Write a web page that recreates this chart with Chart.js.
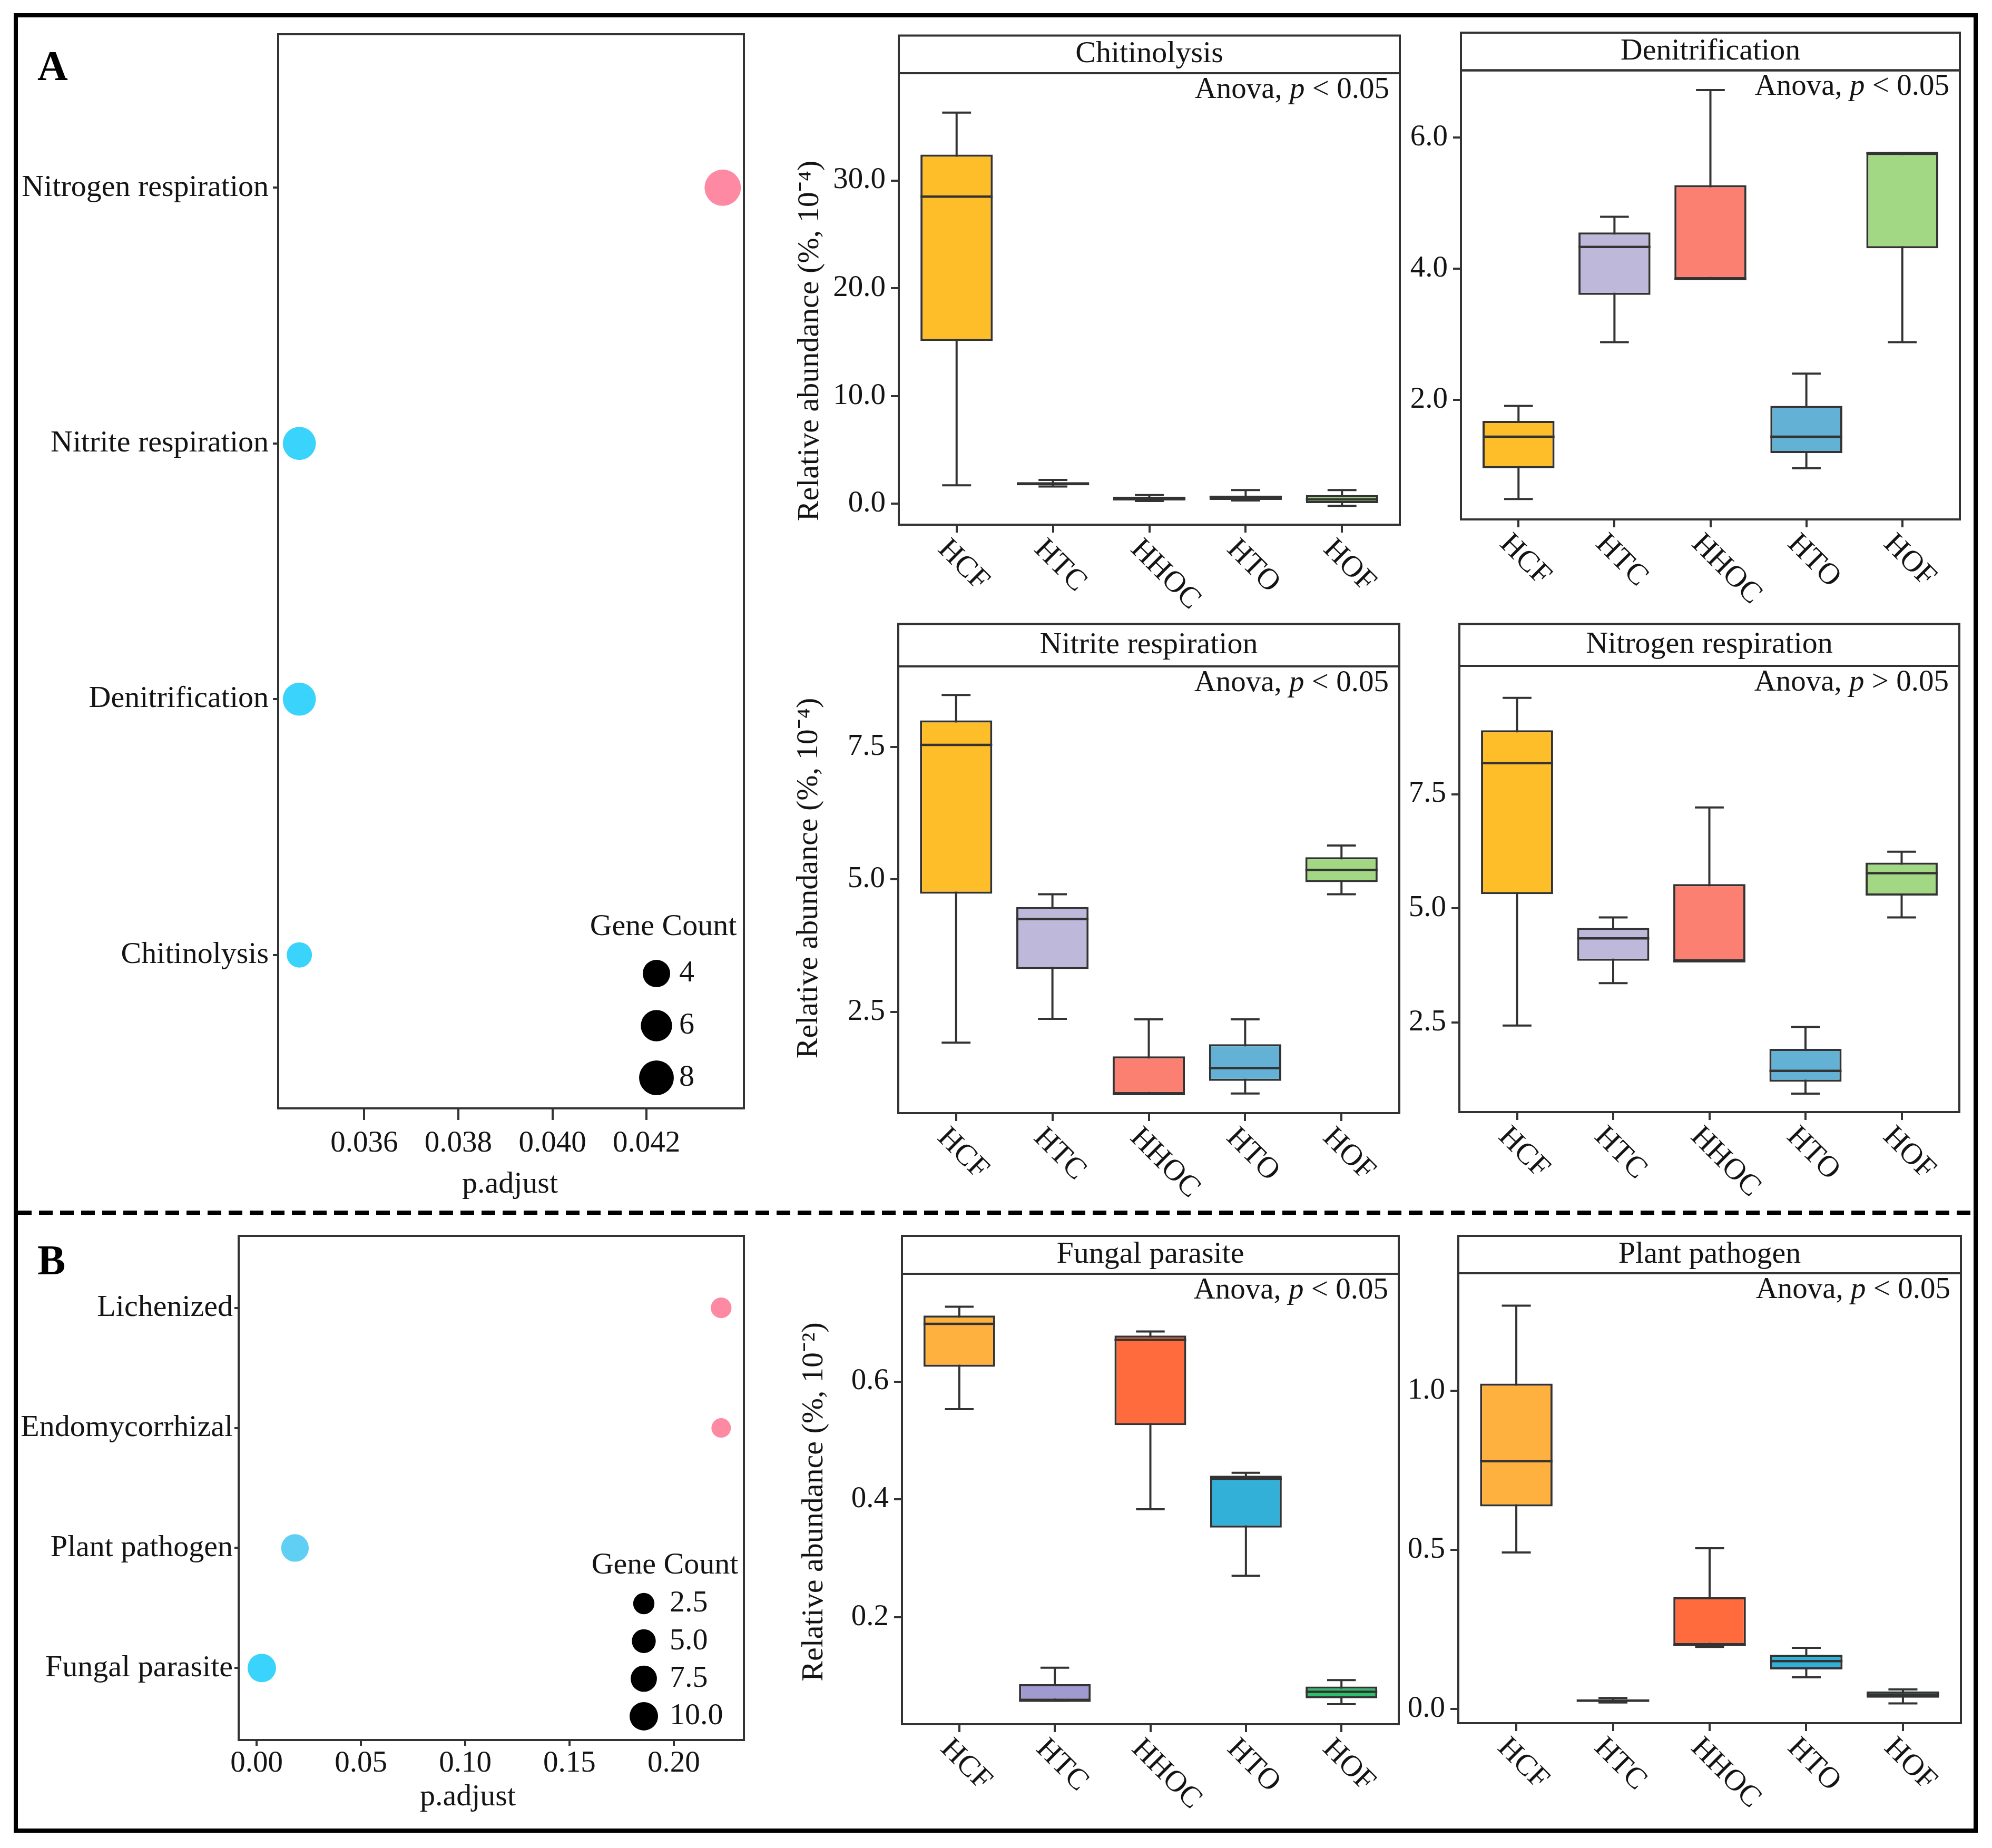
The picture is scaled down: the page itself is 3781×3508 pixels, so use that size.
<!DOCTYPE html>
<html>
<head>
<meta charset="utf-8">
<title>Functional enrichment and relative abundance</title>
<script src="https://cdn.jsdelivr.net/npm/chart.js@4.4.1/dist/chart.umd.min.js"></script>
<style>
  html, body { margin: 0; padding: 0; background: #fff; }
  body { position: relative; width: 3781px; height: 3508px; overflow: hidden; font-family: "Liberation Serif", "Times New Roman", serif; }
  canvas { position: absolute; }
  #frame { position: absolute; left: 26px; top: 25px; width: 3728px; height: 3454px; border: 8px solid #000; box-sizing: border-box; }
  #divider { position: absolute; left: 34px; top: 2298px; width: 3712px; height: 8px;
             background: repeating-linear-gradient(to right, #000 0 26px, transparent 26px 40px); }
  .tag { position: absolute; font-weight: bold; font-size: 80px; line-height: 80px; color: #000; }
</style>
</head>
<body>
<div id="frame"></div>
<div id="divider"></div>
<div class="tag" style="left:71px; top:85px;">A</div>
<div class="tag" style="left:71px; top:2352px;">B</div>
<script>
// ---- data ----
const groups = ['HCF', 'HTC', 'HHOC', 'HTO', 'HOF'];

// dot plots (bottom to top)
const termsA = ['Chitinolysis', 'Denitrification', 'Nitrite respiration', 'Nitrogen respiration'];
const padjA = [0.03462, 0.03462, 0.03462, 0.04362];
const countA = [3, 7, 7, 9];
const xTicksA = [0.036, 0.038, 0.040, 0.042];
const sizeBreaksA = [4, 6, 8];

const termsB = ['Fungal parasite', 'Plant pathogen', 'Endomycorrhizal', 'Lichenized'];
const padjB = [0.0025, 0.0184, 0.2227, 0.2227];
const countB = [10, 9, 1, 2];
const xTicksB = [0, 0.05, 0.10, 0.15, 0.20];
const sizeBreaksB = [2.5, 5.0, 7.5, 10.0];

// box plots: [lower whisker, Q1, median, Q3, upper whisker] per group
const chitinolysis = [[1.7, 15.1, 28.5, 32.4, 36.3], [1.6, 1.7, 1.85, 2.0, 2.2], [0.25, 0.3, 0.45, 0.65, 0.8],
                      [0.3, 0.35, 0.6, 0.75, 1.27], [-0.2, 0.05, 0.4, 0.8, 1.27]];
const denitrification = [[0.49, 0.96, 1.44, 1.68, 1.91], [2.88, 3.60, 4.33, 4.55, 4.79], [3.84, 3.84, 3.84, 5.27, 6.72],
                         [0.96, 1.19, 1.44, 1.91, 2.40], [2.88, 4.31, 5.76, 5.76, 5.76]];
const nitriteResp = [[1.92, 4.73, 7.54, 8.00, 8.48], [2.37, 3.31, 4.25, 4.48, 4.72], [0.95, 0.95, 0.95, 1.66, 2.36],
                     [0.96, 1.20, 1.44, 1.89, 2.36], [4.72, 4.95, 5.18, 5.42, 5.64]];
const nitrogenResp = [[2.43, 5.31, 8.18, 8.90, 9.61], [3.36, 3.85, 4.34, 4.57, 4.80], [3.84, 3.84, 3.84, 5.53, 7.21],
                      [0.94, 1.20, 1.44, 1.92, 2.40], [4.80, 5.28, 5.77, 6.00, 6.24]];
const fungalParasite = [[0.553, 0.625, 0.698, 0.712, 0.727], [0.058, 0.058, 0.058, 0.086, 0.114], [0.383, 0.526, 0.671, 0.678, 0.685],
                        [0.270, 0.352, 0.435, 0.440, 0.445], [0.052, 0.062, 0.073, 0.082, 0.093]];
const plantPathogen = [[0.492, 0.637, 0.779, 1.023, 1.268], [0.020, 0.022, 0.026, 0.030, 0.034], [0.195, 0.201, 0.201, 0.351, 0.505],
                       [0.099, 0.124, 0.150, 0.170, 0.192], [0.017, 0.035, 0.045, 0.055, 0.061]];

const ticksChitinolysis = [0, 10, 20, 30];
const ticksDenitrification = [2, 4, 6];
const ticksNitrite = [2.5, 5, 7.5];
const ticksNitrogen = [2.5, 5, 7.5];
const ticksFungal = [0.2, 0.4, 0.6];
const ticksPlant = [0, 0.5, 1.0];

// ---- styles ----
const SERIF = '"Liberation Serif", "Times New Roman", serif';
const INK = '#141414';
const LINE = '#333333';
const colorsA = ['#FEBE2A', '#BEB9DB', '#FB8072', '#63B2D5', '#A2D883'];
const colorsB = ['#FFB13F', '#A09ACF', '#FF6B3C', '#33B0D8', '#2BC06A'];
const lowColor = '#3AD3FB', highColor = '#FD8AA2';

Chart.defaults.font.family = SERIF;
Chart.defaults.font.size = 57;
Chart.defaults.color = INK;

function font(size, style) { return (style ? style + ' ' : '') + size + 'px ' + SERIF; }

// colour gradient interpolated in CIELAB (like ggplot's gradient scale)
function toLab(hex) {
  const [r, g, b] = [1, 3, 5].map(i => parseInt(hex.substr(i, 2), 16) / 255)
    .map(c => c <= 0.04045 ? c / 12.92 : Math.pow((c + 0.055) / 1.055, 2.4));
  const x = (0.4124 * r + 0.3576 * g + 0.1805 * b) / 0.95047;
  const y = 0.2126 * r + 0.7152 * g + 0.0722 * b;
  const z = (0.0193 * r + 0.1192 * g + 0.9505 * b) / 1.08883;
  const f = t => t > 0.008856 ? Math.cbrt(t) : 7.787 * t + 16 / 116;
  return [116 * f(y) - 16, 500 * (f(x) - f(y)), 200 * (f(y) - f(z))];
}
function fromLab([L, a, b]) {
  const fy = (L + 16) / 116, fx = fy + a / 500, fz = fy - b / 200;
  const inv = t => t * t * t > 0.008856 ? t * t * t : (t - 16 / 116) / 7.787;
  const x = inv(fx) * 0.95047, y = inv(fy), z = inv(fz) * 1.08883;
  const lin = [3.2406 * x - 1.5372 * y - 0.4986 * z, -0.9689 * x + 1.8758 * y + 0.0415 * z, 0.0557 * x - 0.2040 * y + 1.0570 * z];
  const gam = c => {
    c = c <= 0.0031308 ? 12.92 * c : 1.055 * Math.pow(c, 1 / 2.4) - 0.055;
    return Math.round(Math.min(1, Math.max(0, c)) * 255);
  };
  return 'rgb(' + lin.map(gam).join(',') + ')';
}
function mix(a, b, t) {
  const la = toLab(a), lb = toLab(b);
  return fromLab(la.map((v, i) => v + (lb[i] - v) * t));
}

function addCanvas(left, top, w, h) {
  const c = document.createElement('canvas');
  c.width = Math.round(w); c.height = Math.round(h);
  c.style.left = left + 'px'; c.style.top = top + 'px';
  c.style.width = c.width + 'px'; c.style.height = c.height + 'px';
  document.body.appendChild(c);
  return c;
}

function tickGrid(len) {
  return { display: true, drawOnChartArea: false, drawTicks: true, tickLength: len, color: LINE, lineWidth: 4, offset: false };
}

function fixSize(prop, size) {
  return s => {
    s[prop] = size;
    s.paddingLeft = s.paddingRight = s.paddingTop = s.paddingBottom = 0;
  };
}

function drawAnova(ctx, right, cy, sign) {
  const parts = [['Anova, ', ''], ['p', 'italic'], [' ' + sign + ' 0.05', '']];
  let w = 0;
  parts.forEach(([t, s]) => { ctx.font = font(57, s); w += ctx.measureText(t).width; });
  let x = right - w;
  ctx.textAlign = 'left'; ctx.textBaseline = 'middle'; ctx.fillStyle = INK;
  parts.forEach(([t, s]) => { ctx.font = font(57, s); ctx.fillText(t, x, cy); x += ctx.measureText(t).width; });
}

// ---- box plot panel ----
function boxChart(p) {
  const axL = p.yTitle ? p.L - 1480 : 130;
  const axB = 170;
  const left = Math.round(p.L - axL), top = Math.round(p.ST - 6);
  const width = Math.round(p.R - left + 12);
  const canvas = addCanvas(left, top, width, p.B - top + axB);
  const stripH = p.T - p.ST;

  new Chart(canvas, {
    type: 'bar',
    data: {
      datasets: [{
        data: p.stats.map((s, i) => ({ x: i + 1, y: [s[1], s[3]] })),
        backgroundColor: p.colors,
        borderColor: LINE,
        borderWidth: 4,
        borderSkipped: false,
        categoryPercentage: 1,
        barPercentage: 0.75
      }]
    },
    options: {
      responsive: false,
      devicePixelRatio: 1,
      animation: false,
      layout: { autoPadding: false, padding: { top: p.T - top, right: left + width - p.R, left: 0, bottom: 0 } },
      plugins: { legend: { display: false }, tooltip: { enabled: false } },
      scales: {
        x: {
          type: 'linear', min: 0.4, max: groups.length + 0.6, offset: false,
          afterBuildTicks: s => { s.ticks = groups.map((g, i) => ({ value: i + 1 })); },
          afterFit: fixSize('height', axB),
          ticks: { display: false },
          grid: tickGrid(15),
          border: { display: false }
        },
        y: {
          min: p.yMin, max: p.yMax,
          afterBuildTicks: s => { s.ticks = p.yTicks.map(v => ({ value: v })); },
          afterFit: fixSize('width', axL),
          ticks: { padding: 10, callback: v => Number(v).toFixed(1) },
          grid: tickGrid(15),
          border: { display: false }
        }
      }
    },
    plugins: [{
      id: 'boxParts',
      beforeDatasetsDraw(chart) {
        const ctx = chart.ctx, y = chart.scales.y;
        ctx.save(); ctx.strokeStyle = LINE; ctx.lineWidth = 4;
        chart.getDatasetMeta(0).data.forEach((bar, i) => {
          const s = p.stats[i], cap = bar.width * 0.2;
          const yLo = y.getPixelForValue(s[0]), yHi = y.getPixelForValue(s[4]);
          ctx.beginPath();
          ctx.moveTo(bar.x, yHi); ctx.lineTo(bar.x, yLo);
          ctx.moveTo(bar.x - cap, yHi); ctx.lineTo(bar.x + cap, yHi);
          ctx.moveTo(bar.x - cap, yLo); ctx.lineTo(bar.x + cap, yLo);
          ctx.stroke();
        });
        ctx.restore();
      },
      afterDatasetsDraw(chart) {
        const ctx = chart.ctx, y = chart.scales.y;
        ctx.save(); ctx.strokeStyle = LINE; ctx.lineWidth = 4.5;
        chart.getDatasetMeta(0).data.forEach((bar, i) => {
          const ym = y.getPixelForValue(p.stats[i][2]);
          ctx.beginPath();
          ctx.moveTo(bar.x - bar.width / 2, ym); ctx.lineTo(bar.x + bar.width / 2, ym);
          ctx.stroke();
        });
        ctx.restore();
      },
      afterDraw(chart) {
        const ctx = chart.ctx, a = chart.chartArea, xs = chart.scales.x;
        ctx.save();
        ctx.strokeStyle = LINE; ctx.lineWidth = 4;
        ctx.strokeRect(a.left, a.top, a.right - a.left, a.bottom - a.top);
        ctx.strokeRect(a.left, a.top - stripH, a.right - a.left, stripH);
        ctx.fillStyle = INK; ctx.font = font(58); ctx.textAlign = 'center'; ctx.textBaseline = 'middle';
        ctx.fillText(p.title, (a.left + a.right) / 2, a.top - stripH / 2);
        drawAnova(ctx, a.right - 20, a.top + 32, p.sign);
        if (p.yTitle) {
          ctx.save();
          ctx.translate(p.titleX - left, p.titleY - top);
          ctx.rotate(-Math.PI / 2);
          ctx.font = font(58); ctx.textAlign = 'center'; ctx.textBaseline = 'middle'; ctx.fillStyle = INK;
          ctx.fillText(p.yTitle, 0, 0);
          ctx.restore();
        }
        ctx.font = font(57); ctx.textAlign = 'left'; ctx.textBaseline = 'middle'; ctx.fillStyle = INK;
        groups.forEach((g, i) => {
          const px = xs.getPixelForValue(i + 1);
          ctx.save();
          ctx.translate(px - 27, a.bottom + 38);
          ctx.rotate(Math.PI / 4);
          ctx.fillText(g, 0, 0);
          ctx.restore();
        });
        ctx.restore();
      }
    }]
  });
}

// ---- dot plot panel ----
function dotChart(p) {
  const left = 36, top = p.T - 20;
  const axL = p.L - left;
  const axB = p.titleY - p.B + 40;
  const canvas = addCanvas(left, top, p.R - left + 20, p.B - top + axB);
  const lo = Math.min(...p.padj), hi = Math.max(...p.padj);
  const colors = p.padj.map(v => mix(lowColor, highColor, (v - lo) / (hi - lo)));

  new Chart(canvas, {
    type: 'scatter',
    data: {
      datasets: [{
        data: p.padj.map((v, i) => ({ x: v, y: i + 1 })),
        pointRadius: p.count.map(p.radius),
        pointBackgroundColor: colors,
        pointBorderWidth: 0,
        clip: false
      }]
    },
    options: {
      responsive: false,
      devicePixelRatio: 1,
      animation: false,
      layout: { autoPadding: false, padding: { top: 20, right: 20, left: 0, bottom: 0 } },
      plugins: { legend: { display: false }, tooltip: { enabled: false } },
      scales: {
        x: {
          type: 'linear', min: p.xMin, max: p.xMax,
          afterBuildTicks: s => { s.ticks = p.xTicks.map(v => ({ value: v })); },
          afterFit: fixSize('height', axB),
          ticks: { padding: p.xPad, maxRotation: 0, autoSkip: false, callback: v => Number(v).toFixed(p.digits) },
          grid: tickGrid(p.xTick),
          border: { display: false }
        },
        y: {
          type: 'linear', min: 0.4, max: p.terms.length + 0.6,
          afterBuildTicks: s => { s.ticks = p.terms.map((t, i) => ({ value: i + 1 })); },
          afterFit: fixSize('width', axL),
          ticks: { padding: p.yPad, autoSkip: false, font: { size: 58 }, callback: v => p.terms[Math.round(v) - 1] },
          grid: tickGrid(p.yTick),
          border: { display: false }
        }
      }
    },
    plugins: [{
      id: 'dotParts',
      afterDraw(chart) {
        const ctx = chart.ctx, a = chart.chartArea, g = p.legend;
        ctx.save();
        ctx.strokeStyle = LINE; ctx.lineWidth = 4;
        ctx.strokeRect(a.left, a.top, a.right - a.left, a.bottom - a.top);
        ctx.fillStyle = INK; ctx.font = font(58); ctx.textAlign = 'center'; ctx.textBaseline = 'middle';
        ctx.fillText('p.adjust', p.titleX - left, p.titleY - top);
        ctx.fillText('Gene Count', a.right - g.titleDx, a.bottom - g.titleDy);
        p.sizeBreaks.forEach((b, i) => {
          const cy = a.bottom - g.firstDy + i * g.step;
          ctx.beginPath();
          ctx.arc(a.right - g.dotDx, cy, p.radius(b), 0, Math.PI * 2);
          ctx.fillStyle = '#000'; ctx.fill();
          ctx.fillStyle = INK; ctx.textAlign = 'left';
          ctx.fillText(b.toFixed(p.sizeDigits), a.right - g.labelDx, cy);
        });
        ctx.restore();
      }
    }]
  });
}

// ---- build ----
dotChart({
  terms: termsA, padj: padjA, count: countA, xTicks: xTicksA, sizeBreaks: sizeBreaksA,
  xMin: 0.03417, xMax: 0.04407, digits: 3, sizeDigits: 0,
  radius: c => Math.sqrt(269 + 102.3 * c),
  L: 528, T: 65, R: 1412, B: 2104, titleX: 968, titleY: 2249,
  xTick: 22, xPad: 11, yTick: 10, yPad: 8,
  legend: { titleDx: 153, titleDy: 344, dotDx: 166, labelDx: 123, firstDy: 256, step: 99 }
});
dotChart({
  terms: termsB, padj: padjB, count: countB, xTicks: xTicksB, sizeBreaks: sizeBreaksB,
  xMin: -0.0086, xMax: 0.2336, digits: 2, sizeDigits: 1,
  radius: c => Math.sqrt(299 + 43 * c),
  L: 453, T: 2346, R: 1412, B: 3303, titleX: 888, titleY: 3412,
  xTick: 11, xPad: 0, yTick: 8, yPad: 3,
  legend: { titleDx: 150, titleDy: 331, dotDx: 190, labelDx: 141, firstDy: 259, step: 71.3 }
});

boxChart({ title: 'Chitinolysis', sign: '<', stats: chitinolysis, colors: colorsA, yTicks: ticksChitinolysis,
  yMin: -1.95, yMax: 39.95, yTitle: 'Relative abundance (%, 10⁻⁴)', titleX: 1538, titleY: 647,
  L: 1706, T: 139, R: 2657, B: 996, ST: 67.5 });
boxChart({ title: 'Denitrification', sign: '<', stats: denitrification, colors: colorsA, yTicks: ticksDenitrification,
  yMin: 0.18, yMax: 7.02, yTitle: null,
  L: 2773, T: 133.5, R: 3720, B: 986, ST: 62 });
boxChart({ title: 'Nitrite respiration', sign: '<', stats: nitriteResp, colors: colorsA, yTicks: ticksNitrite,
  yMin: 0.59, yMax: 9.02, yTitle: 'Relative abundance (%, 10⁻⁴)', titleX: 1536, titleY: 1667,
  L: 1705, T: 1265, R: 2656, B: 2113, ST: 1184.5 });
boxChart({ title: 'Nitrogen respiration', sign: '>', stats: nitrogenResp, colors: colorsA, yTicks: ticksNitrogen,
  yMin: 0.536, yMax: 10.31, yTitle: null,
  L: 2770, T: 1264, R: 3719, B: 2111, ST: 1184.5 });
boxChart({ title: 'Fungal parasite', sign: '<', stats: fungalParasite, colors: colorsB, yTicks: ticksFungal,
  yMin: 0.018, yMax: 0.783, yTitle: 'Relative abundance (%, 10⁻²)', titleX: 1546, titleY: 2851,
  L: 1712, T: 2418, R: 2655, B: 3273, ST: 2346 });
boxChart({ title: 'Plant pathogen', sign: '<', stats: plantPathogen, colors: colorsB, yTicks: ticksPlant,
  yMin: -0.045, yMax: 1.37, yTitle: null,
  L: 2768, T: 2417, R: 3722, B: 3271, ST: 2346 });
</script>
</body>
</html>
